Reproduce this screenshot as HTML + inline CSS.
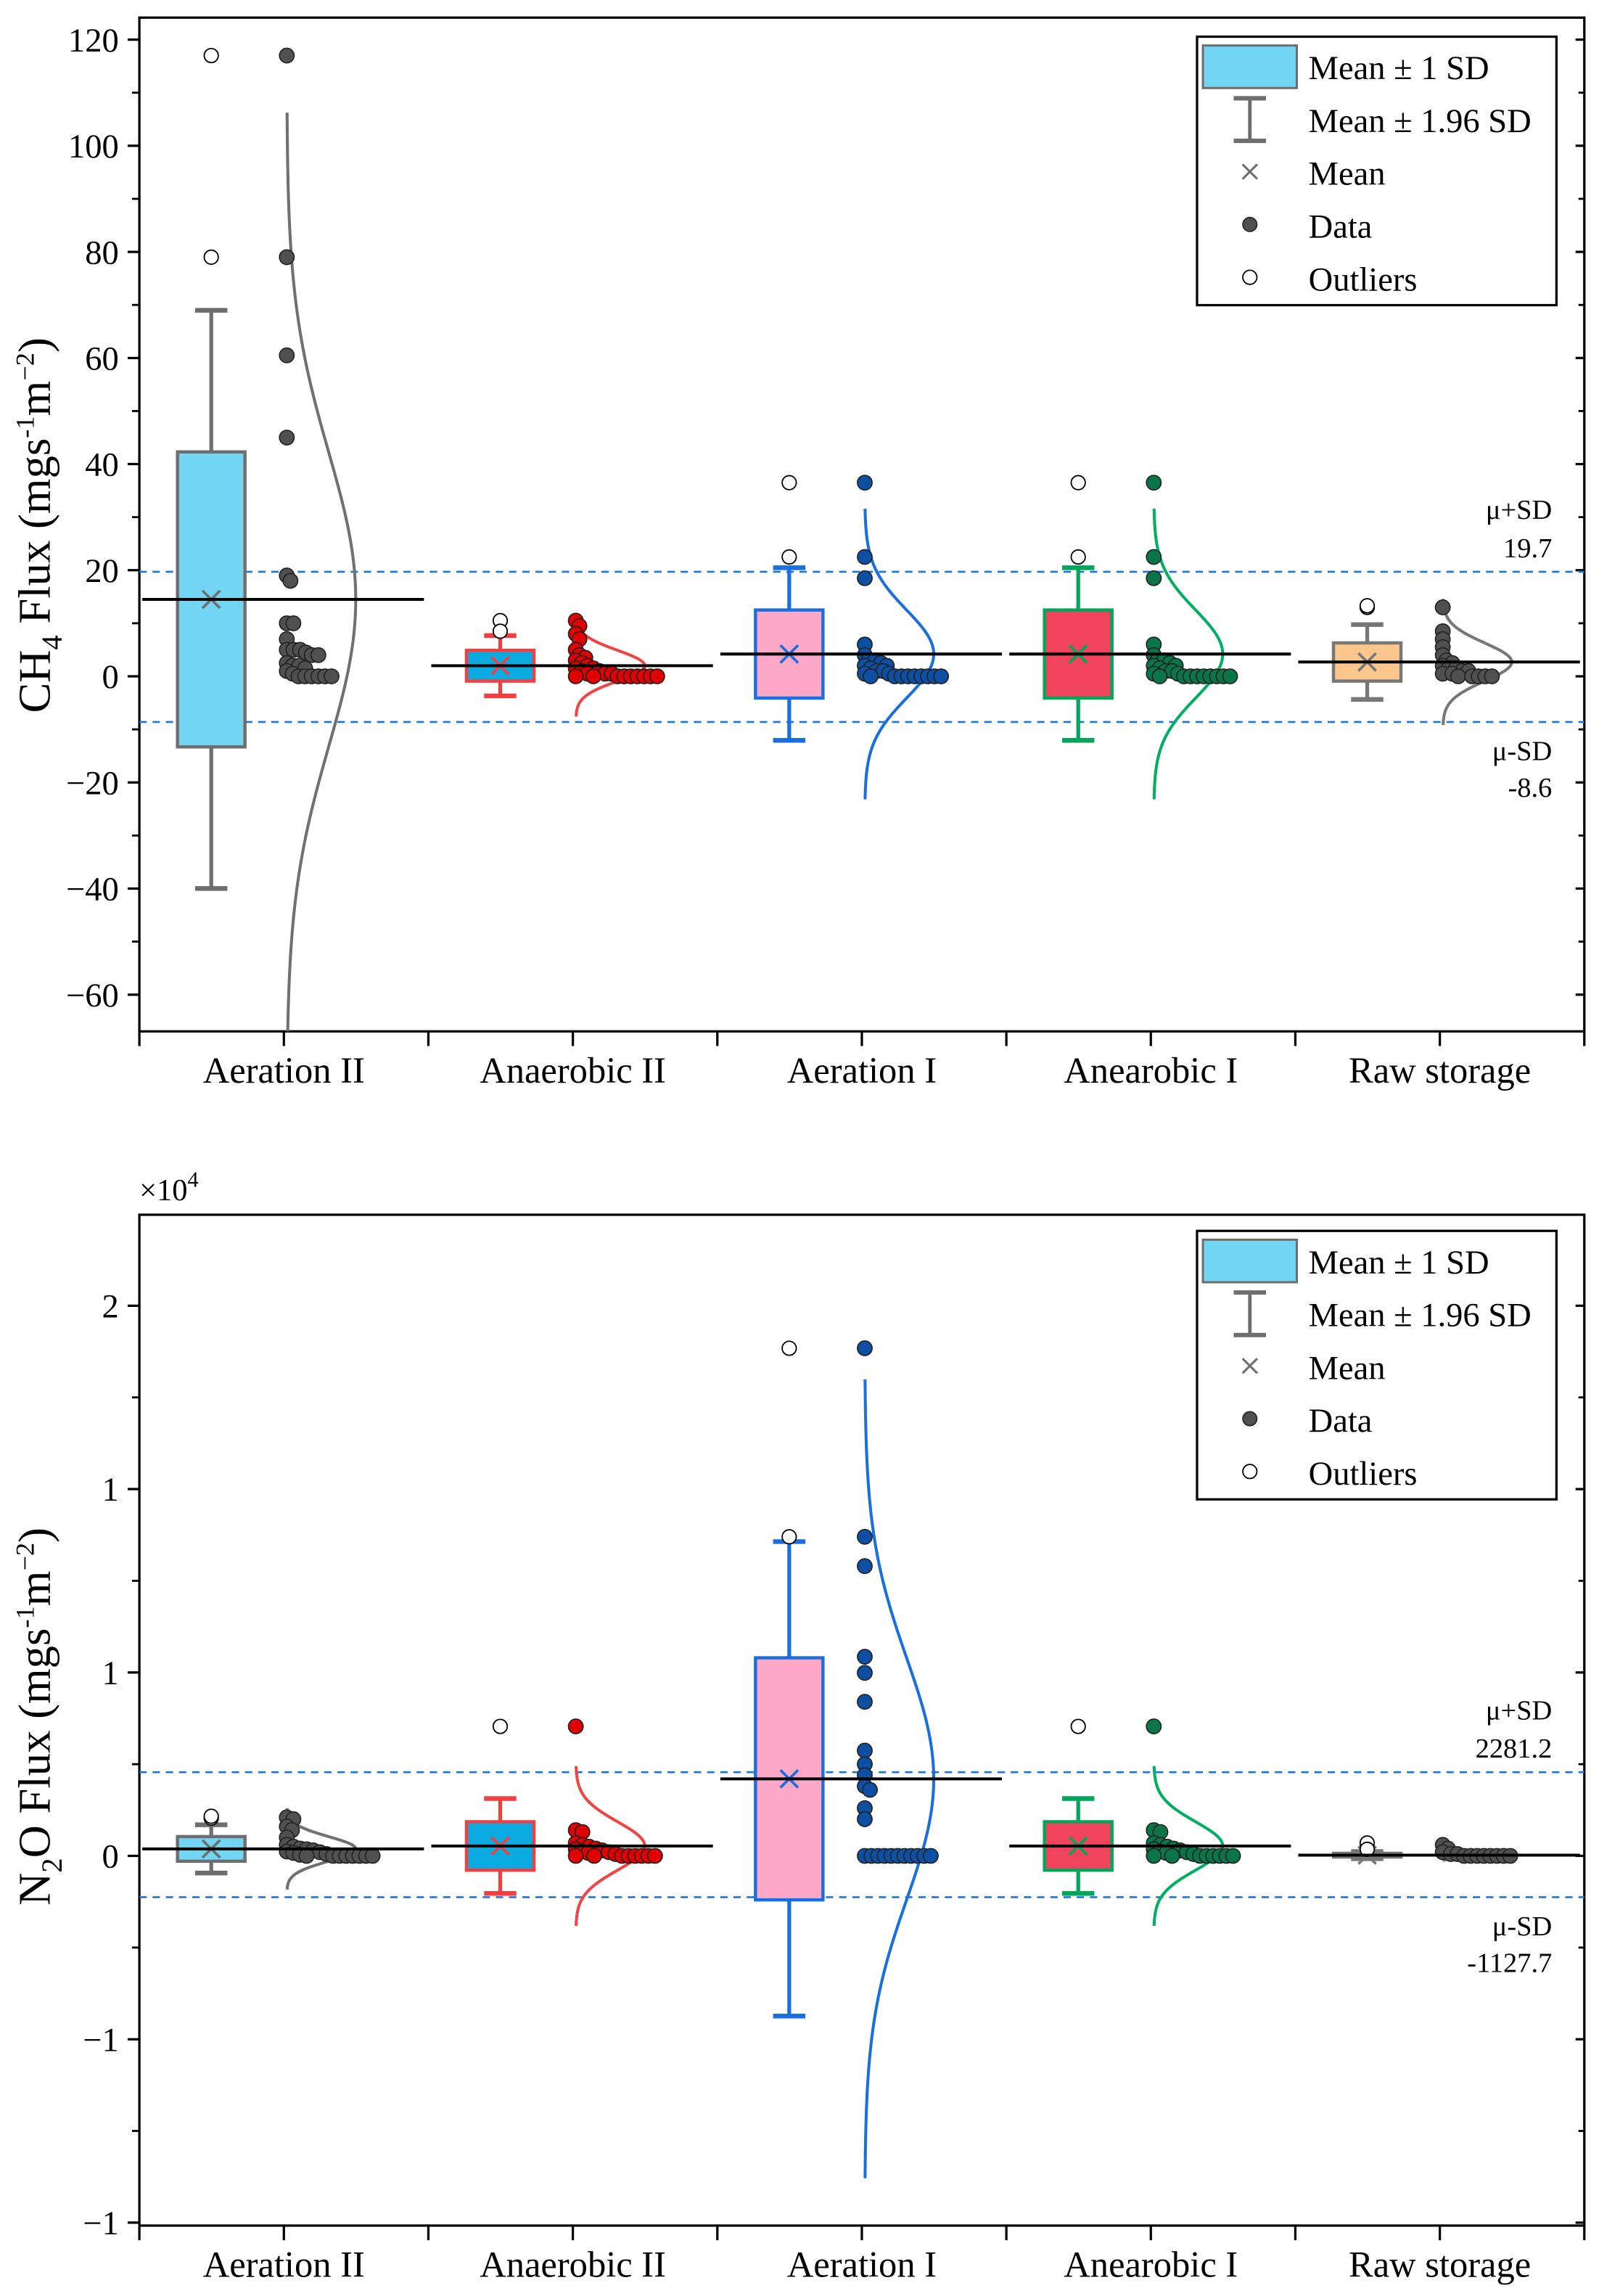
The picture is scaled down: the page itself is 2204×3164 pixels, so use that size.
<!DOCTYPE html>
<html><head><meta charset="utf-8"><style>
html,body{margin:0;padding:0;background:#fff}
svg{display:block}
text{font-family:"Liberation Serif",serif;fill:#000}
</style></head><body>
<svg id="fig" width="2204" height="3164" viewBox="0 0 1090 1565" preserveAspectRatio="none" xmlns="http://www.w3.org/2000/svg">
<defs>
<clipPath id="clipTop"><rect x="95" y="12" width="985" height="691"/></clipPath>
<clipPath id="clipBot"><rect x="95" y="828" width="985" height="689"/></clipPath>
</defs>
</svg>
<script>
// ---------- shared data ----------
const categories = ["Aeration  II","Anaerobic II","Aeration I","Anearobic I","Raw storage"];
// ---------- CH4 data ----------
const ch4Mean = [14.5, 2.0, 4.2, 4.2, 2.7];
const ch4SD = [27.8, 2.9, 8.3, 8.3, 3.6];
const ch4Outliers = [[117,79],[10.5,8.5],[36.5,22.5],[36.5,22.5],[13,13.3]];
const ch4DataAerII = [117,79,60.5,45,19,18,10,10,7,5,5,5,4.5,4,4,2.5,2,2,1.5,1,0.5,0,0,0,0,0,0];
const ch4DataAnII = [10.5,9.5,8,7,5,4,3.5,3,2.5,2,1.5,1.5,1,1,0.5,0.5,0.5,0,0,0,0,0,0,0,0,0];
const ch4DataAerI = [36.5,22.5,18.5,6,4,3,3,2.5,2,2,1.5,1,1,0.5,0.5,0,0,0,0,0,0,0,0,0];
const ch4DataAnI = [36.5,22.5,18.5,6,4,3,3,2.5,2,2,1.5,1,1,0.5,0.5,0,0,0,0,0,0,0,0,0];
const ch4DataRaw = [13,8.5,7,5.5,4,3,2.5,2,1.5,1.5,1,1,0.5,0.5,0,0,0,0,0];
const ch4Ticks = [-60,-40,-20,0,20,40,60,80,100,120];
const ch4TickLabels = ["\u221260","\u221240","\u221220","0","20","40","60","80","100","120"];
const ch4Ref = [19.7, -8.6];
const ch4RefLabels = ["19.7","-8.6"];
// ---------- N2O data ----------
const n2oMean = [190, 270, 2100, 270, 20];
const n2oSD = [336, 660, 3300, 660, 50];
const n2oOutliers = [[1030,1080],[3530],[13840,8700],[3530],[350,180]];
const n2oDataAerII = [1050,1000,800,700,500,300,250,200,180,150,120,100,80,50,30,0,0,0,0,0,0,0,0];
const n2oDataAnII = [3530,700,650,350,300,250,200,180,150,120,100,80,50,0,0,0,0,0,0,0,0];
const n2oDataAerI = [13840,8700,7900,5430,4990,4200,2870,2500,2200,1900,1800,1300,1000,0,0,0,0,0,0,0,0,0,0,0];
const n2oDataAnI = [3530,700,650,350,300,250,200,180,150,120,100,80,50,0,0,0,0,0,0,0,0];
const n2oDataRaw = [300,200,100,50,50,0,0,0,0,0,0,0,0];
const n2oTicks = [-10000,-5000,0,5000,10000,15000];
const n2oTickLabels = ["\u22121","\u22121","0","1","1","2"];
const n2oRef = [2281.2, -1127.7];
const n2oRefLabels = ["2281.2","-1127.7"];

const styles = [
 {fill:"#72d5f3", stroke:"#6e6e6e", dot:"#505050", curve:"#707070"},
 {fill:"#0aabe0", stroke:"#f24040", dot:"#e00000", curve:"#f04545"},
 {fill:"#fea8c8", stroke:"#1a6fe0", dot:"#0c4fa3", curve:"#1a6fe0"},
 {fill:"#f2435d", stroke:"#00a65a", dot:"#0a7547", curve:"#00b060"},
 {fill:"#fcc68c", stroke:"#777777", dot:"#505050", curve:"#777777"}
];

const NS = "http://www.w3.org/2000/svg";
const svg = document.getElementById("fig");
function mk(tag, attrs, parent){ const e=document.createElementNS(NS,tag); for(const k in attrs) e.setAttribute(k,attrs[k]); (parent||svg).appendChild(e); return e; }

const X0=95, X1=1080, catW=197;
function xCenter(i){ return X0 + catW*i + 98.5; }

function drawChart(o){
  const g = mk("g",{});
  
  
  const y = o.yScale;
  const fr = mk("rect",{x:X0,y:o.top,width:X1-X0,height:o.bottom-o.top,fill:"none",stroke:"#000","stroke-width":1.6},g);
  
  
  for(let i=0;i<o.ticks.length;i++){
    const ty=y(o.ticks[i]);
    mk("line",{x1:X0-8,x2:X0,y1:ty,y2:ty,stroke:"#000","stroke-width":1.6},g);
    mk("line",{x1:X1-6,x2:X1,y1:ty,y2:ty,stroke:"#000","stroke-width":1.6},g);
    const t=mk("text",{x:X0-14,y:ty+8,"font-size":23,"text-anchor":"end"},g);
    t.textContent=o.tickLabels[i];
    
    
    if(i<o.ticks.length-1){
      const my=y((o.ticks[i]+o.ticks[i+1])/2);
      mk("line",{x1:X0-5,x2:X0,y1:my,y2:my,stroke:"#000","stroke-width":1.4},g);
      mk("line",{x1:X1-4,x2:X1,y1:my,y2:my,stroke:"#000","stroke-width":1.4},g);
    }
  }
  for(let k=0;k<=10;k++){
    const tx=X0+k*98.5;
    mk("line",{x1:tx,x2:tx,y1:o.bottom,y2:o.bottom+10,stroke:"#000","stroke-width":1.6},g);
  }
  for(let i=0;i<categories.length;i++){
    const t=mk("text",{x:xCenter(i),y:o.bottom+35,"font-size":25,"text-anchor":"middle","xml:space":"preserve"},g);
    t.textContent=categories[i];
    
    
  }
  for(let r=0;r<2;r++){
    const ry=y(o.ref[r]);
    const l=mk("line",{x1:X0,x2:X1,y1:ry,y2:ry,stroke:"#1a75e0","stroke-width":1.3,"stroke-dasharray":"5,4"},g);
    
    
    const a=mk("text",{x:1058,y:r===0?ry-36:ry+26,"font-size":19,"text-anchor":"end"},g);
    a.textContent = r===0?"\u03bc+SD":"\u03bc-SD";
    
    
    const b=mk("text",{x:1058,y:r===0?ry-10:ry+51,"font-size":19,"text-anchor":"end"},g);
    b.textContent = o.refLabels[r];
    
    
  }
  const pg = mk("g",{"clip-path":"url(#"+o.clip+")"},g);
  for(let i=0;i<categories.length;i++){
    const s=styles[i], cx=xCenter(i), bx=cx-49.5;
    const m=o.mean[i], sd=o.sd[i];
    const grp=mk("g",{},pg);
    
    
    const wt=y(m+1.96*sd), wb=y(m-1.96*sd), bt=y(m+sd), bb=y(m-sd);
    mk("line",{x1:bx,x2:bx,y1:wt,y2:wb,stroke:s.stroke,"stroke-width":2.6},grp);
    mk("line",{x1:bx-11,x2:bx+11,y1:wt,y2:wt,stroke:s.stroke,"stroke-width":3.2},grp);
    mk("line",{x1:bx-11,x2:bx+11,y1:wb,y2:wb,stroke:s.stroke,"stroke-width":3.2},grp);
    const box=mk("rect",{x:bx-23,y:bt,width:46,height:Math.max(bb-bt,1),fill:s.fill,stroke:s.stroke,"stroke-width":2.2},grp);
    
    
    const my=y(m);
    mk("path",{d:`M${bx-6},${my-6}L${bx+6},${my+6}M${bx+6},${my-6}L${bx-6},${my+6}`,stroke:s.stroke,"stroke-width":1.8},grp);
    for(const ov of o.outliers[i]){
      const c=mk("circle",{cx:bx,cy:y(ov),r:4.8,fill:"#fff",stroke:"#000","stroke-width":0.9},grp);
      
      
    }
    const base=cx+2; let d="";
    for(let k=0;k<=120;k++){
      const z=-3.3+6.6*k/120; const v=m+z*sd;
      const px=base+47*Math.exp(-0.5*z*z); d+=(k?"L":"M")+px.toFixed(2)+","+y(v).toFixed(2);
    }
    const cv=mk("path",{d:d,fill:"none",stroke:s.curve,"stroke-width":2},grp);
    
    
    const placed=[];
    for(const v of o.data[i]){
      const py=y(v); let px=cx+2;
      for(let it=0;it<400;it++){
        let ok=true;
        for(const p of placed){ if(Math.hypot(p[0]-px,p[1]-py)<4.2){ok=false;break;} }
        if(ok) break; px+=0.5;
      }
      placed.push([px,py]);
      const c=mk("circle",{cx:px,cy:py,r:5,fill:s.dot,stroke:"#222","stroke-width":0.8},grp);
      
      
    }
    const ml=mk("line",{x1:X0+catW*i+2,x2:X0+catW*(i+1)-3,y1:my,y2:my,stroke:"#000","stroke-width":2},grp);
    
    
  }
  const tt=mk("text",{transform:`translate(${o.titleX},${o.titleY}) rotate(-90)`,"font-size":31,"text-anchor":"middle"},g);
  
  
  tt.innerHTML=o.title;
  const L=mk("g",{transform:`translate(0,${o.legendDY})`},g);
  
  
  mk("rect",{x:816,y:25,width:245,height:183,fill:"#fff",stroke:"#000","stroke-width":1.6},L);
  mk("rect",{x:820,y:31,width:64,height:29,fill:"#72d5f3",stroke:"#6e6e6e","stroke-width":1.5},L);
  mk("line",{x1:852,x2:852,y1:67,y2:96,stroke:"#6e6e6e","stroke-width":2.4},L);
  mk("line",{x1:841,x2:863,y1:67,y2:67,stroke:"#6e6e6e","stroke-width":3},L);
  mk("line",{x1:841,x2:863,y1:96,y2:96,stroke:"#6e6e6e","stroke-width":3},L);
  mk("path",{d:"M847,112L857,122M857,112L847,122",stroke:"#6e6e6e","stroke-width":1.5},L);
  mk("circle",{cx:852,cy:153,r:4.8,fill:"#505050",stroke:"#222","stroke-width":0.8},L);
  mk("circle",{cx:852,cy:189,r:4.8,fill:"#fff",stroke:"#000","stroke-width":0.9},L);
  const lt=["Mean \u00b1 1 SD","Mean \u00b1 1.96 SD","Mean","Data","Outliers"];
  for(let k=0;k<5;k++){
    const t=mk("text",{x:892,y:54+36*k,"font-size":23},L);
    t.textContent=lt[k];
    
    
  }
}

drawChart({name:"ch4-chart", top:12, bottom:703, clip:"clipTop",
  yScale:v=>461 - v*(72.33/20),
  ticks:ch4Ticks, tickLabels:ch4TickLabels, ref:ch4Ref, refLabels:ch4RefLabels,
  mean:ch4Mean, sd:ch4SD, outliers:ch4Outliers,
  data:[ch4DataAerII,ch4DataAnII,ch4DataAerI,ch4DataAnI,ch4DataRaw],
  title:'CH<tspan font-size="20" dy="8">4</tspan><tspan dy="-8"> Flux (mgs</tspan><tspan font-size="18" dy="-11">-1</tspan><tspan dy="11">m</tspan><tspan font-size="18" dy="-11">\u22122</tspan><tspan dy="11">)</tspan>',
  titleX:34, titleY:358, legendDY:0});

drawChart({name:"n2o-chart", top:828, bottom:1517, clip:"clipBot",
  yScale:v=>1265 - v*0.025,
  ticks:n2oTicks, tickLabels:n2oTickLabels, ref:n2oRef, refLabels:n2oRefLabels,
  mean:n2oMean, sd:n2oSD, outliers:n2oOutliers,
  data:[n2oDataAerII,n2oDataAnII,n2oDataAerI,n2oDataAnI,n2oDataRaw],
  title:'N<tspan font-size="20" dy="8">2</tspan><tspan dy="-8">O Flux (mgs</tspan><tspan font-size="18" dy="-11">-1</tspan><tspan dy="11">m</tspan><tspan font-size="18" dy="-11">\u22122</tspan><tspan dy="11">)</tspan>',
  titleX:34, titleY:1170, legendDY:814});

const mult=mk("text",{x:95,y:818,"font-size":21});


mult.innerHTML='\u00d710<tspan font-size="15" dy="-9">4</tspan>';
</script>
</body></html>
